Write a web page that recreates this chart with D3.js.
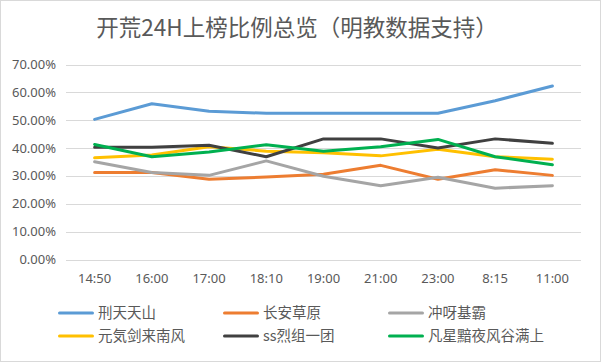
<!DOCTYPE html>
<html>
<head>
<meta charset="utf-8">
<script src="https://cdn.jsdelivr.net/npm/d3@7"></script>
<style>
  body { margin: 0; background: #fff; }
  text { font-family: "Noto Sans", "Noto Sans CJK SC", sans-serif; }
</style>
</head>
<body>
<div id="chart"></div>
<script>
var times = ["14:50", "16:00", "17:00", "18:10", "19:00", "21:00", "23:00", "8:15", "11:00"];
var yTicks = [0, 0.1, 0.2, 0.3, 0.4, 0.5, 0.6, 0.7];

var xingtian   = [0.503, 0.559, 0.532, 0.525, 0.525, 0.525, 0.525, 0.570, 0.623];
var changan    = [0.312, 0.312, 0.288, 0.296, 0.306, 0.338, 0.288, 0.322, 0.302];
var chongya    = [0.351, 0.312, 0.302, 0.354, 0.299, 0.265, 0.295, 0.256, 0.265];
var yuanqi     = [0.365, 0.375, 0.405, 0.389, 0.383, 0.372, 0.396, 0.369, 0.360];
var ss         = [0.403, 0.403, 0.410, 0.369, 0.433, 0.433, 0.400, 0.433, 0.417];
var fanxing    = [0.413, 0.369, 0.386, 0.412, 0.389, 0.405, 0.431, 0.369, 0.340];

var seriesNames = ["刑天天山", "长安草原", "冲呀基霸", "元気剑来南风", "ss烈组一团", "凡星黯夜风谷满上"];
var seriesValues = [xingtian, changan, chongya, yuanqi, ss, fanxing];
var colors = ["#5B9BD5", "#ED7D31", "#A5A5A5", "#FFC000", "#404040", "#00B050"];

var W = 602, H = 362;
var svg = d3.select("#chart").append("svg")
    .attr("width", W)
    .attr("height", H);

// chart frame
svg.append("rect")
    .attr("x", 0.5).attr("y", 0.5)
    .attr("width", 600).attr("height", 361)
    .attr("fill", "#fff")
    .attr("stroke", "#d9d9d9");

svg.append("text")
    .attr("x", 297).attr("y", 36)
    .attr("text-anchor", "middle")
    .attr("fill", "#595959")
    .style("font-family", "'Noto Sans CJK SC', 'Noto Sans', sans-serif")
    .attr("font-size", "22.5px")
    .text("开荒24H上榜比例总览（明教数据支持）");

var x = d3.scaleBand().domain(times).range([66, 581]);
var y = d3.scaleLinear().domain([0, 0.7]).range([259.5, 64.5]);

// gridlines
svg.append("g")
    .selectAll("line")
    .data(yTicks)
    .enter()
    .append("line")
    .attr("x1", 66).attr("x2", 581)
    .attr("y1", function(d) { return Math.round(y(d)) + 0.5; })
    .attr("y2", function(d) { return Math.round(y(d)) + 0.5; })
    .attr("stroke", "#d9d9d9")
    .attr("stroke-width", 1);

// y labels
svg.append("g")
    .selectAll("text")
    .data(yTicks)
    .enter()
    .append("text")
    .attr("x", 56)
    .attr("y", function(d) { return y(d); })
    .attr("dy", "0.35em")
    .attr("text-anchor", "end")
    .attr("fill", "#595959")
    .attr("font-size", "13px")
    .text(function(d) { return (d * 100).toFixed(2) + "%"; });

// x labels
svg.append("g")
    .selectAll("text")
    .data(times)
    .enter()
    .append("text")
    .attr("x", function(d) { return x(d) + x.bandwidth() / 2; })
    .attr("y", 283)
    .attr("text-anchor", "middle")
    .attr("fill", "#595959")
    .attr("font-size", "13px")
    .text(function(d) { return d; });

var line = d3.line()
    .x(function(d, i) { return x(times[i]) + x.bandwidth() / 2; })
    .y(function(d) { return y(d); });

svg.append("g")
    .selectAll("path")
    .data(seriesValues)
    .enter()
    .append("path")
    .attr("d", line)
    .attr("fill", "none")
    .attr("stroke", function(d, i) { return colors[i]; })
    .attr("stroke-width", 3)
    .attr("stroke-linejoin", "round")
    .attr("stroke-linecap", "round");

// legend, 3 per row
var legX = [58, 223, 388];
var legY = [313, 336];
var leg = svg.append("g")
    .selectAll("g")
    .data(seriesNames)
    .enter()
    .append("g")
    .attr("transform", function(d, i) {
        return "translate(" + legX[i % 3] + "," + legY[Math.floor(i / 3)] + ")";
    });

leg.append("line")
    .attr("x1", 1.5).attr("x2", 34.5)
    .attr("y1", 0).attr("y2", 0)
    .attr("stroke", function(d, i) { return colors[i]; })
    .attr("stroke-width", 3)
    .attr("stroke-linecap", "round");

leg.append("text")
    .attr("x", 40)
    .attr("y", 0)
    .attr("dy", "0.36em")
    .attr("fill", "#595959")
    .style("font-family", "'Noto Sans CJK SC', 'Noto Sans', sans-serif")
    .attr("font-size", "14.5px")
    .text(function(d) { return d; });
</script>
</body>
</html>
